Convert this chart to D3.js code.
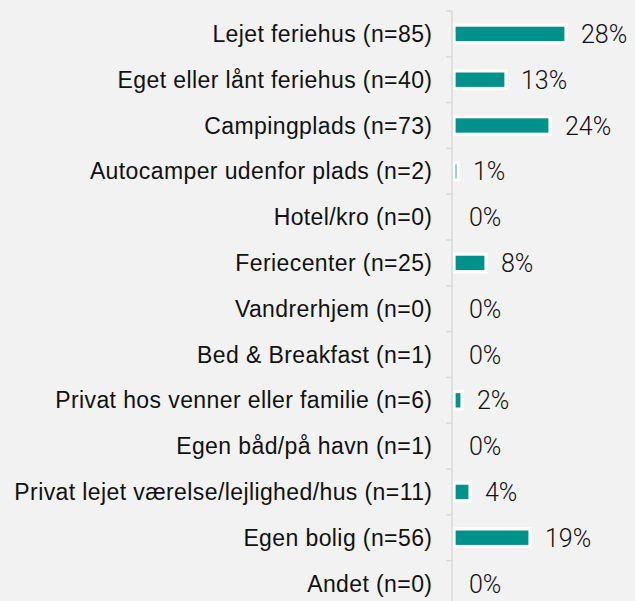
<!DOCTYPE html>
<html>
<head>
<meta charset="utf-8">
<script src="https://cdn.jsdelivr.net/npm/d3@7"></script>
<style>
  html, body { margin: 0; padding: 0; background: #f2f2f2; }
  svg { display: block; }
</style>
</head>
<body>
<script>
// Overnatningsform – andel af respondenter
const categories = [
  "Lejet feriehus (n=85)",
  "Eget eller lånt feriehus (n=40)",
  "Campingplads (n=73)",
  "Autocamper udenfor plads (n=2)",
  "Hotel/kro (n=0)",
  "Feriecenter (n=25)",
  "Vandrerhjem (n=0)",
  "Bed & Breakfast (n=1)",
  "Privat hos venner eller familie (n=6)",
  "Egen båd/på havn (n=1)",
  "Privat lejet værelse/lejlighed/hus (n=11)",
  "Egen bolig (n=56)",
  "Andet (n=0)"
];
const shares = [28, 13, 24, 1, 0, 8, 0, 0, 2, 0, 4, 19, 0];
const shareLabels = ["28%", "13%", "24%", "1%", "0%", "8%", "0%", "0%", "2%", "0%", "4%", "19%", "0%"];

const width = 635, height = 601;
const axisX = 452, barX0 = 454;

const svg = d3.select("body").append("svg")
  .attr("width", width)
  .attr("height", height);

svg.append("rect")
  .attr("width", width).attr("height", height)
  .attr("fill", "#f2f2f2");

// rows (for grid ticks) and bars
const yRow = d3.scaleBand().domain(categories).range([11, 606.4]).padding(0);
const y = d3.scaleBand().domain(categories).range([11, 606.4])
  .paddingInner(0.616).paddingOuter(0.308);
const x = d3.scaleLinear().domain([0, 30]).range([barX0, barX0 + 120]);

const data = categories.map((c, i) => ({ c, v: shares[i], label: shareLabels[i] }));

// bars
svg.append("g").selectAll("rect")
  .data(data.filter(d => d.v > 0))
  .join("rect")
  .attr("x", x(0))
  .attr("y", d => y(d.c))
  .attr("width", d => x(d.v) - x(0))
  .attr("height", y.bandwidth())
  .attr("fill", "#00918a")
  .attr("stroke", "#ffffff")
  .attr("stroke-width", 3.2);

// category axis
const axis = svg.append("g").attr("stroke", "#d9d9d9").attr("stroke-width", 1.5);
axis.append("line")
  .attr("x1", axisX).attr("x2", axisX)
  .attr("y1", yRow.range()[0]).attr("y2", yRow.range()[1]);
const boundaries = categories.map(c => yRow(c)).concat([yRow.range()[1]]);
axis.selectAll("line.tick")
  .data(boundaries)
  .join("line")
  .attr("class", "tick")
  .attr("x1", axisX - 6).attr("x2", axisX)
  .attr("y1", d => d).attr("y2", d => d);

// category labels
svg.append("g").selectAll("text")
  .data(data)
  .join("text")
  .attr("x", 432.4)
  .attr("y", d => yRow(d.c) + yRow.bandwidth() / 2)
  .attr("dy", "0.35em")
  .attr("text-anchor", "end")
  .attr("font-family", "'Liberation Sans', Arial, sans-serif")
  .attr("font-size", 23)
  .attr("letter-spacing", "0.4px")
  .attr("fill", "#111111")
  .text(d => d.c);

// value labels
svg.append("g").selectAll("text")
  .data(data)
  .join("text")
  .attr("x", d => x(d.v) + 15)
  .attr("y", d => yRow(d.c) + yRow.bandwidth() / 2)
  .attr("dy", "0.36em")
  .attr("font-family", "Roboto, sans-serif")
  .attr("font-weight", 300)
  .attr("font-size", 25)
  .attr("fill", "#111111")
  .text(d => d.label);
</script>
</body>
</html>
